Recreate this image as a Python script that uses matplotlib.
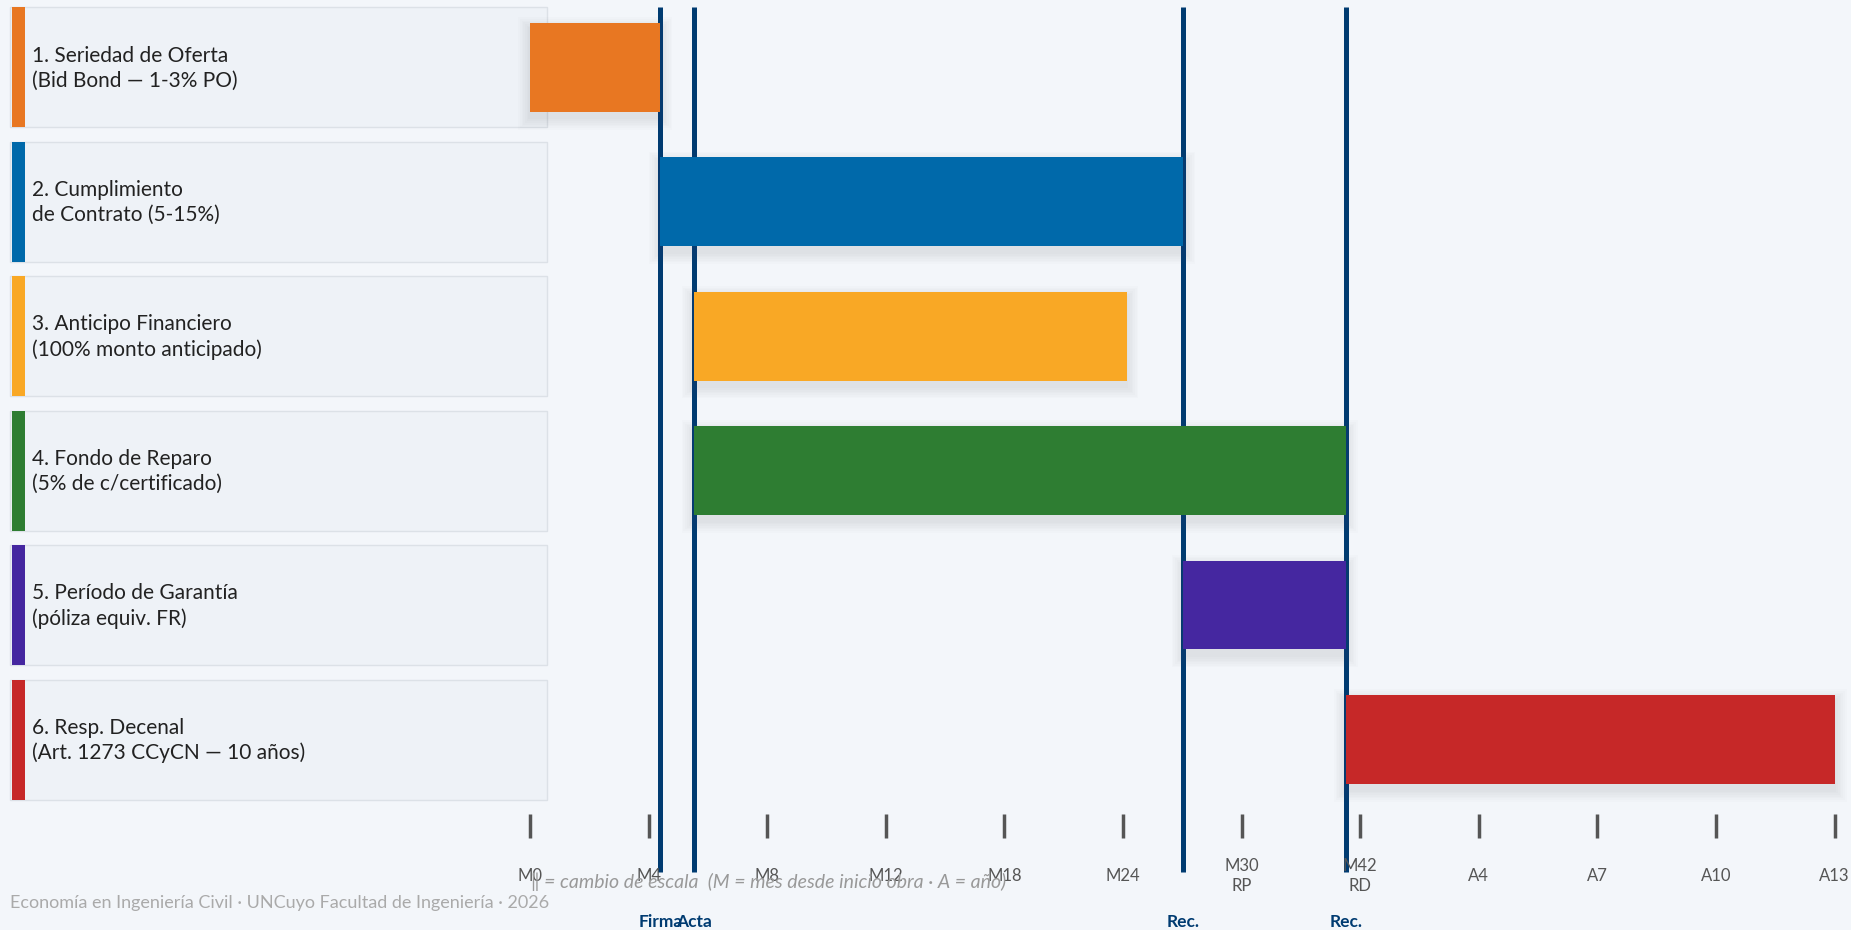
import matplotlib
matplotlib.use("Agg")
import matplotlib.pyplot as plt
from matplotlib.patches import Rectangle

# ---------------- data ----------------
labels = [
    "1. Seriedad de Oferta\n(Bid Bond — 1-3% PO)",
    "2. Cumplimiento\nde Contrato (5-15%)",
    "3. Anticipo Financiero\n(100% monto anticipado)",
    "4. Fondo de Reparo\n(5% de c/certificado)",
    "5. Período de Garantía\n(póliza equiv. FR)",
    "6. Resp. Decenal\n(Art. 1273 CCyCN — 10 años)",
]
colors = ["#E87722", "#0069AA", "#F9A825", "#2E7D32", "#4527A0", "#C62828"]
# positions on the (piecewise) time scale, in tick-step units
bar_start = [0.0, 1.10, 1.38, 1.38, 5.51, 6.88]
bar_end = [1.10, 5.51, 5.03, 6.88, 6.88, 11.0]

tick_labels = ["M0", "M4", "M8", "M12", "M18", "M24", "M30\nRP", "M42\nRD",
               "A4", "A7", "A10", "A13"]

event_names = ["Firma", "Acta", "Rec.", "Rec."]
event_pos = [1.10, 1.38, 5.51, 6.88]

# ---------------- style ----------------
W, H = 1851, 930
DPI = 100
BG = "#F3F6FA"
NAVY = "#003B71"
FONT = ["Lato", "DejaVu Sans"]
plt.rcParams["font.family"] = FONT

fig = plt.figure(figsize=(W / DPI, H / DPI), dpi=DPI, facecolor=BG)
ax = fig.add_axes([0, 0, 1, 1])
ax.set_facecolor(BG)
ax.axis("off")

# layout in pixels -> data coordinates
X0, DX = 530.0, 118.6     # pixel of first tick, pixel step between ticks
Y0, DY = 67.35, 134.43    # pixel centre of first row, row pitch
ax.set_xlim(-X0 / DX, (W - X0) / DX)
ax.set_ylim((H - Y0) / DY, -Y0 / DY)


def px_x(p):
    return (p - X0) / DX


def px_y(p):
    return (p - Y0) / DY


bar_h = 88.7 / DY

# label boxes
for i, (lab, c) in enumerate(zip(labels, colors)):
    top = i - 60 / DY
    ax.add_patch(Rectangle((px_x(10), top), px_x(547) - px_x(10), 120 / DY,
                           facecolor="#EEF2F7", edgecolor="#DCE1E7", lw=1.0, zorder=1))
    ax.add_patch(Rectangle((px_x(12), top), px_x(25) - px_x(12), 120 / DY,
                           facecolor=c, edgecolor="none", zorder=2))
    ax.text(px_x(32), i + 1 / DY, lab, ha="left", va="center", fontsize=15,
            color="#222222", linespacing=1.3, zorder=3)

# event lines (behind bars)
for p in event_pos:
    ax.plot([p, p], [px_y(7), px_y(872)], color=NAVY, lw=3.6,
            solid_capstyle="butt", zorder=2)

# bars with soft shadow
for i, (s, e, c) in enumerate(zip(bar_start, bar_end, colors)):
    for k in range(1, 8):
        m = k * 1.7
        ax.add_patch(Rectangle((s - m / DX, i - bar_h / 2 + (6 - m) / DY),
                               (e - s) + 2 * m / DX, bar_h + 2 * m / DY,
                               facecolor="#5F6470", edgecolor="none",
                               alpha=0.02, zorder=3))
    ax.add_patch(Rectangle((s, i - bar_h / 2), e - s, bar_h,
                           facecolor=c, edgecolor="none", zorder=4))

# axis ticks and labels
for j, tl in enumerate(tick_labels):
    ax.plot([j, j], [px_y(814), px_y(838)], color="#555555", lw=2.5,
            solid_capstyle="butt", zorder=2)
    ax.text(j, px_y(876), tl, ha="center", va="center", fontsize=12,
            color="#555555", linespacing=1.35, zorder=5)

# event names
for name, p in zip(event_names, event_pos):
    ax.text(p, px_y(922), name, ha="center", va="center", fontsize=12.5,
            fontweight="bold", color=NAVY, zorder=5)

# notes
ax.text(px_x(531), px_y(882),
        "‖ = cambio de escala  (M = mes desde inicio obra · A = año)",
        ha="left", va="center", fontsize=14, style="italic", color="#999999",
        zorder=6)
ax.text(px_x(10), px_y(903),
        "Economía en Ingeniería Civil · UNCuyo Facultad de Ingeniería · 2026",
        ha="left", va="center", fontsize=13, color="#AAAAAA", zorder=5)

fig.savefig("out.png", dpi=DPI, facecolor=BG)
